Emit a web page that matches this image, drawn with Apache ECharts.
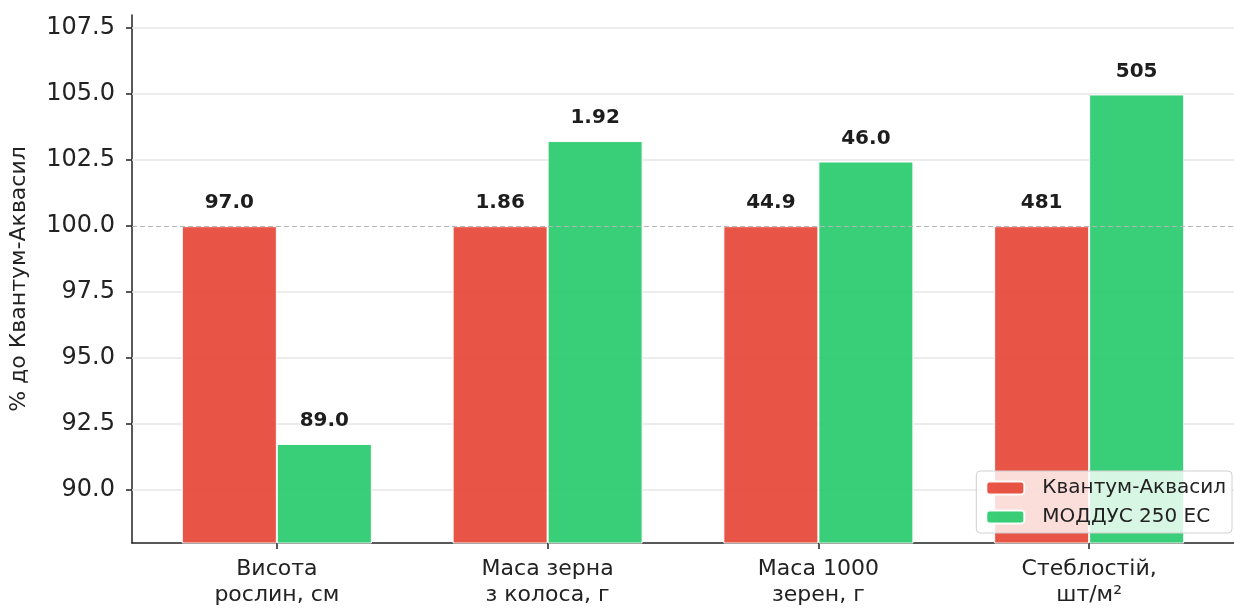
<!DOCTYPE html>
<html><head><meta charset="utf-8">
<script src="https://cdn.jsdelivr.net/npm/echarts@6/dist/echarts.min.js"></script>
<style>html,body{margin:0;padding:0;background:#fff}#c{width:1234px;height:608px}</style>
</head><body><div id="c"></div>
<script>
const categories = ['Висота\nрослин, см', 'Маса зерна\nз колоса, г', 'Маса 1000\nзерен, г', 'Стеблостій,\nшт/м²'];
const seriesNames = ['Квантум-Аквасил', 'МОДДУС 250 ЕС'];
const kvantum = [97.0, 1.86, 44.9, 481];
const moddus = [89.0, 1.92, 46.0, 505];
const decimals = [1, 2, 1, 0];
const yTicks = [90, 92.5, 95, 97.5, 100, 102.5, 105, 107.5];
const xTicks = [0, 1, 2, 3];

const kvPct = kvantum.map((v, i) => [i, v / kvantum[i] * 100]);
const moPct = moddus.map((v, i) => [i, v / kvantum[i] * 100]);
const font = 'DejaVu Sans';

const chart = echarts.init(document.getElementById('c'), null, {renderer: 'canvas'});
const labelOpt = (raw) => ({
  show: true, position: 'top', distance: 13,
  fontFamily: font, fontWeight: 'bold', fontSize: 20, color: '#111',
  formatter: p => raw[p.dataIndex].toFixed(decimals[p.dataIndex])
});
chart.setOption({
  animation: false,
  backgroundColor: '#fff',
  textStyle: {fontFamily: font},
  grid: {left: 128, right: -10, top: 15, bottom: 64},
  legend: {
    orient: 'vertical', right: 2, bottom: 75,
    itemWidth: 38, itemHeight: 13, itemGap: 9,
    padding: [7, 6, 6, 9],
    backgroundColor: 'rgba(255,255,255,0.8)', borderColor: '#d0d0d0', borderWidth: 1, borderRadius: 4,
    textStyle: {fontFamily: font, fontSize: 20, color: '#222', padding: [0, 0, 0, 13]},
    data: seriesNames
  },
  xAxis: {
    type: 'value', min: -0.535, max: 3.535,
    splitLine: {show: false},
    axisLine: {show: true, onZero: false, lineStyle: {color: '#222', width: 1.5}},
    axisTick: {show: true, customValues: xTicks, length: 6, lineStyle: {color: '#222', width: 1.5}},
    axisLabel: {customValues: xTicks, formatter: v => categories[Math.round(v)] || '',
      fontFamily: font, fontSize: 22, color: '#222', lineHeight: 26, margin: 13}
  },
  yAxis: {
    type: 'value', min: 88, max: 108,
    name: '% до Квантум-Аквасил', nameLocation: 'middle', nameGap: 102,
    nameTextStyle: {fontFamily: font, fontSize: 22, color: '#222'},
    splitLine: {show: false},
    axisLine: {show: true, onZero: false, lineStyle: {color: '#222', width: 1.5}},
    axisTick: {show: true, customValues: yTicks, length: 6, lineStyle: {color: '#222', width: 1.5}},
    axisLabel: {customValues: yTicks, formatter: v => v.toFixed(1), fontFamily: font, fontSize: 24, color: '#222', margin: 17}
  },
  series: [
    {
      type: 'line', data: [], silent: true, z: 1,
      markLine: {
        silent: true, symbol: 'none', label: {show: false}, z: 1,
        lineStyle: {color: '#e6e6e6', width: 1.5, type: 'solid'},
        data: yTicks.filter(t => t !== 100).map(t => ({yAxis: t}))
      }
    },
    {
      name: seriesNames[0], type: 'bar', data: kvPct, barWidth: 95, barGap: '0%', z: 2,
      itemStyle: {color: '#e74c3c', borderColor: '#fff', borderWidth: 1, opacity: 0.95},
      label: labelOpt(kvantum),
      markLine: {
        silent: true, symbol: 'none', label: {show: false}, z: 3,
        lineStyle: {color: '#b5b5b5', width: 1.2, type: [5, 3]},
        data: [{yAxis: 100}]
      }
    },
    {
      name: seriesNames[1], type: 'bar', data: moPct, barWidth: 95, barGap: '0%', z: 2,
      itemStyle: {color: '#2ecc71', borderColor: '#fff', borderWidth: 1, opacity: 0.95},
      label: labelOpt(moddus)
    }
  ]
});
</script></body></html>
